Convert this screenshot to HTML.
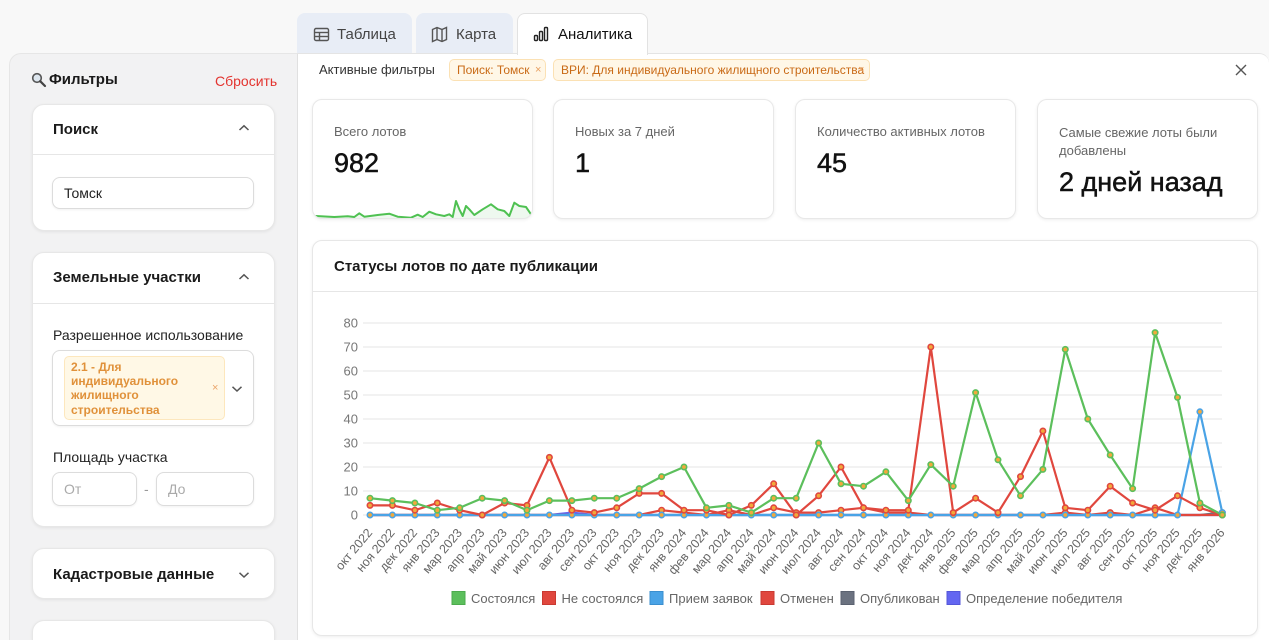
<!DOCTYPE html>
<html style="width:1269px;height:640px;overflow:hidden"><head><meta charset="utf-8">
<style>
*{box-sizing:border-box;margin:0;padding:0}
html,body{width:1269px;height:640px;overflow:hidden}
body{background:#f8f8f8;font-family:"Liberation Sans","DejaVu Sans",sans-serif;color:#111;position:relative}
.abs{position:absolute;white-space:nowrap}
.t{position:absolute;white-space:nowrap;line-height:20px;height:20px}
.tab{position:absolute;top:13px;height:40px;border-radius:8px 8px 0 0;background:#e8edf6}
.tab.active{background:#fff;border:1px solid #e2e2e2;border-bottom:none;height:42px;z-index:3}
.side{position:absolute;left:9px;top:53px;width:289px;height:587px;background:#f2f2f3;border:1px solid #e6e6e6;border-bottom:none;border-radius:12px 0 0 0}
.main{position:absolute;left:297px;top:53px;width:972px;height:587px;background:#fff;border-top:1px solid #e4e4e4;border-left:1px solid #e0e0e0;border-top-right-radius:10px;z-index:2}
.card{position:absolute;background:#fff;border:1px solid #e7e7e7;border-radius:12px;box-shadow:0 1px 3px rgba(0,0,0,.07)}
.scard{position:absolute;top:99px;width:221px;height:120px;background:#fff;border:1px solid #e8e8e8;border-radius:10px;box-shadow:0 1px 3px rgba(0,0,0,.07);overflow:hidden;z-index:3}
.lbl{font-size:13px;color:#666}
.val{font-size:27px;color:#111;-webkit-text-stroke:0.5px #111}
.hdr{font-size:15px;font-weight:bold;color:#1a1a1a}
.inp{position:absolute;background:#fff;border:1px solid #dcdcdc;border-radius:8px;box-shadow:0 1px 2px rgba(0,0,0,.06)}
.chip{position:absolute;top:59px;height:22px;background:#fff7e7;border:1px solid #fbe1b4;border-radius:5px;z-index:3}
.chipt{position:absolute;top:0;line-height:20px;font-size:12px;color:#c96a16;white-space:nowrap}
.chipx{position:absolute;top:0;line-height:20px;font-size:11px;color:#e7a061}
</style></head><body>

<!-- tabs -->
<div class="tab" style="left:297px;width:115px"></div>
<div class="tab" style="left:416px;width:97px"></div>
<div class="tab active" style="left:517px;width:131px"></div>
<svg class="abs" style="left:0;top:0;z-index:4" width="660" height="60">
  <g fill="none" stroke="#555" stroke-width="1.4">
    <rect x="314.5" y="28.5" width="14" height="12" rx="1.5"/>
    <line x1="314.5" y1="32.5" x2="328.5" y2="32.5"/>
    <line x1="314.5" y1="36.5" x2="328.5" y2="36.5"/>
    <line x1="319.5" y1="32.5" x2="319.5" y2="40.5"/>
    <path d="M432.5 29.5 L437 27.5 L442 29.5 L446.5 27.5 L446.5 39.5 L442 41.5 L437 39.5 L432.5 41.5 Z"/>
    <line x1="437" y1="27.5" x2="437" y2="39.5"/>
    <line x1="442" y1="29.5" x2="442" y2="41.5"/>
  </g>
  <g fill="none" stroke="#222" stroke-width="1.4">
    <rect x="534.5" y="35.5" width="3" height="5" rx="1"/>
    <rect x="539.5" y="31.5" width="3" height="9" rx="1"/>
    <rect x="544.5" y="27.5" width="3" height="13" rx="1"/>
  </g>
</svg>
<div class="t" style="left:337px;top:25px;font-size:15px;color:#444;z-index:4">Таблица</div>
<div class="t" style="left:456px;top:25px;font-size:15px;color:#444;z-index:4">Карта</div>
<div class="t" style="left:558px;top:25px;font-size:15px;color:#111;z-index:4">Аналитика</div>

<!-- sidebar -->
<div class="side"></div>
<svg class="abs" style="left:31px;top:72px" width="16" height="16"><circle cx="6" cy="6" r="4.3" fill="#dde6ee" stroke="#555" stroke-width="1.6"/><line x1="9.2" y1="9.2" x2="14" y2="14" stroke="#444" stroke-width="2.2" stroke-linecap="round"/></svg>
<div class="t hdr" style="left:49px;top:70px">Фильтры</div>
<div class="t" style="left:215px;top:71px;font-size:14px;color:#e3342f">Сбросить</div>

<div class="card" style="left:32px;top:104px;width:243px;height:127px">
  <div style="position:absolute;left:0;top:49px;width:100%;border-top:1px solid #e6e6e6"></div>
</div>
<div class="t hdr" style="left:53px;top:120px">Поиск</div>
<svg class="abs" style="left:238px;top:124px" width="12" height="8"><polyline points="1.5,6 6,1.8 10.5,6" fill="none" stroke="#555" stroke-width="1.5"/></svg>
<div class="inp" style="left:52px;top:177px;width:202px;height:32px"></div>
<div class="t" style="left:64px;top:183px;font-size:14px;color:#222">Томск</div>

<div class="card" style="left:32px;top:252px;width:243px;height:275px">
  <div style="position:absolute;left:0;top:50px;width:100%;border-top:1px solid #e6e6e6"></div>
</div>
<div class="t hdr" style="left:53px;top:268px">Земельные участки</div>
<svg class="abs" style="left:238px;top:273px" width="12" height="8"><polyline points="1.5,6 6,1.8 10.5,6" fill="none" stroke="#555" stroke-width="1.5"/></svg>
<div class="t" style="left:53px;top:325px;font-size:14px;color:#222">Разрешенное использование</div>
<div class="inp" style="left:52px;top:350px;width:202px;height:76px"></div>
<div class="abs" style="left:64px;top:356px;width:161px;height:64px;background:#fff8e6;border:1px solid #fde7bd;border-radius:5px"></div>
<div class="abs" style="left:71px;top:359.5px;font-size:12px;font-weight:bold;line-height:14.4px;color:#e0913a">2.1 - Для<br>индивидуального<br>жилищного<br>строительства</div>
<div class="t" style="left:212px;top:378px;font-size:11px;color:#eaa46a">×</div>
<svg class="abs" style="left:231px;top:385px" width="12" height="8"><polyline points="1.5,1.8 6,6 10.5,1.8" fill="none" stroke="#555" stroke-width="1.5"/></svg>
<div class="t" style="left:53px;top:447px;font-size:14px;color:#222">Площадь участка</div>
<div class="inp" style="left:52px;top:472px;width:85px;height:34px"></div>
<div class="t" style="left:64px;top:479px;font-size:14px;color:#aaa">От</div>
<div class="t" style="left:144px;top:479px;font-size:14px;color:#999">-</div>
<div class="inp" style="left:156px;top:472px;width:98px;height:34px"></div>
<div class="t" style="left:168px;top:479px;font-size:14px;color:#aaa">До</div>

<div class="card" style="left:32px;top:548px;width:243px;height:51px"></div>
<div class="t hdr" style="left:53px;top:565px">Кадастровые данные</div>
<svg class="abs" style="left:238px;top:571px" width="12" height="8"><polyline points="1.5,1.8 6,6 10.5,1.8" fill="none" stroke="#555" stroke-width="1.5"/></svg>
<div class="card" style="left:32px;top:620px;width:243px;height:20px;border-bottom:none;border-radius:12px 12px 0 0"></div>

<!-- main -->
<div class="main"></div>
<div class="t" style="left:319px;top:60px;font-size:13px;color:#333;z-index:3">Активные фильтры</div>
<div class="chip" style="left:449px;width:97px"><span class="chipt" style="left:7px">Поиск: Томск</span><span class="chipx" style="left:85px">×</span></div>
<div class="chip" style="left:553px;width:317px"><span class="chipt" style="left:7px">ВРИ: Для индивидуального жилищного строительства</span><span class="chipx" style="left:304px">×</span></div>
<svg class="abs" style="left:1235px;top:64px;z-index:3" width="12" height="12"><path d="M1 1 L11 11 M11 1 L1 11" stroke="#555" stroke-width="1.4"/></svg>

<div class="scard" style="left:312px">
  <div class="t lbl" style="left:21px;top:22px">Всего лотов</div>
  <div class="abs val" style="left:21px;top:46px;line-height:34px">982</div>
  <svg class="abs" style="left:0;top:0" width="221" height="120" viewBox="312 99 221 120">
    <polygon fill="rgba(92,191,95,0.10)" points="313,220 315,215 333.3,216 346.7,215.3 353.3,216 358.3,212.3 363.3,215.7 376.7,214 388.3,212.7 396.7,215.7 410,216.7 416.7,213.7 421.7,216 428.3,210.7 435,213.3 443.3,215 448.3,213.3 451.7,216 455,200 458.3,208.3 461.7,215 465,205 468.3,208.3 473.3,214 481.7,208.3 490,203.3 496.7,208.3 503.3,210 508.3,215 513.3,201.7 518.3,205 525,206 530,213.3 531,220"/>
    <polyline fill="none" stroke="#4fc152" stroke-width="2" stroke-linejoin="round" points="313,216 315,215 333.3,216 346.7,215.3 353.3,216 358.3,212.3 363.3,215.7 376.7,214 388.3,212.7 396.7,215.7 410,216.7 416.7,213.7 421.7,216 428.3,210.7 435,213.3 443.3,215 448.3,213.3 451.7,216 455,200 458.3,208.3 461.7,215 465,205 468.3,208.3 473.3,214 481.7,208.3 490,203.3 496.7,208.3 503.3,210 508.3,215 513.3,201.7 518.3,205 525,206 530,213.3"/>
  </svg>
</div>
<div class="scard" style="left:553px">
  <div class="t lbl" style="left:21px;top:22px">Новых за 7 дней</div>
  <div class="abs val" style="left:21px;top:46px;line-height:34px">1</div>
</div>
<div class="scard" style="left:795px">
  <div class="t lbl" style="left:21px;top:22px">Количество активных лотов</div>
  <div class="abs val" style="left:21px;top:46px;line-height:34px">45</div>
</div>
<div class="scard" style="left:1037px">
  <div class="abs lbl" style="left:21px;top:24px;line-height:18px;white-space:normal;width:190px">Самые свежие лоты были добавлены</div>
  <div class="abs val" style="left:21px;top:65px;line-height:34px">2 дней назад</div>
</div>

<div class="card" style="left:312px;top:240px;width:946px;height:396px;border-radius:10px;z-index:3">
  <div style="position:absolute;left:0;top:50px;width:100%;border-top:1px solid #e6e6e6"></div>
</div>
<div class="t hdr" style="left:334px;top:257px;z-index:4">Статусы лотов по дате публикации</div>

<svg class="abs" style="left:0;top:0;z-index:5" width="1269" height="640" font-family="Liberation Sans, DejaVu Sans, sans-serif">
  <g stroke="#e5e5e5" stroke-width="1">
    <line x1="363" y1="323" x2="1222" y2="323"/>
    <line x1="363" y1="347" x2="1222" y2="347"/>
    <line x1="363" y1="371" x2="1222" y2="371"/>
    <line x1="363" y1="395" x2="1222" y2="395"/>
    <line x1="363" y1="419" x2="1222" y2="419"/>
    <line x1="363" y1="443" x2="1222" y2="443"/>
    <line x1="363" y1="467" x2="1222" y2="467"/>
    <line x1="363" y1="491" x2="1222" y2="491"/>
    <line x1="363" y1="515" x2="1222" y2="515"/>
  </g>
  <g font-size="13" fill="#777" text-anchor="end">
    <text x="358" y="327.5">80</text>
    <text x="358" y="351.5">70</text>
    <text x="358" y="375.5">60</text>
    <text x="358" y="399.5">50</text>
    <text x="358" y="423.5">40</text>
    <text x="358" y="447.5">30</text>
    <text x="358" y="471.5">20</text>
    <text x="358" y="495.5">10</text>
    <text x="358" y="519.5">0</text>
  </g>
  <g font-size="12.5" fill="#666" text-anchor="end">
    <text transform="translate(373,533) rotate(-50)">окт 2022</text>
    <text transform="translate(395.4,533) rotate(-50)">ноя 2022</text>
    <text transform="translate(417.9,533) rotate(-50)">дек 2022</text>
    <text transform="translate(440.3,533) rotate(-50)">янв 2023</text>
    <text transform="translate(462.7,533) rotate(-50)">мар 2023</text>
    <text transform="translate(485.2,533) rotate(-50)">апр 2023</text>
    <text transform="translate(507.6,533) rotate(-50)">май 2023</text>
    <text transform="translate(530,533) rotate(-50)">июн 2023</text>
    <text transform="translate(552.4,533) rotate(-50)">июл 2023</text>
    <text transform="translate(574.9,533) rotate(-50)">авг 2023</text>
    <text transform="translate(597.3,533) rotate(-50)">сен 2023</text>
    <text transform="translate(619.7,533) rotate(-50)">окт 2023</text>
    <text transform="translate(642.2,533) rotate(-50)">ноя 2023</text>
    <text transform="translate(664.6,533) rotate(-50)">дек 2023</text>
    <text transform="translate(687,533) rotate(-50)">янв 2024</text>
    <text transform="translate(709.5,533) rotate(-50)">фев 2024</text>
    <text transform="translate(731.9,533) rotate(-50)">мар 2024</text>
    <text transform="translate(754.3,533) rotate(-50)">апр 2024</text>
    <text transform="translate(776.7,533) rotate(-50)">май 2024</text>
    <text transform="translate(799.2,533) rotate(-50)">июн 2024</text>
    <text transform="translate(821.6,533) rotate(-50)">июл 2024</text>
    <text transform="translate(844,533) rotate(-50)">авг 2024</text>
    <text transform="translate(866.5,533) rotate(-50)">сен 2024</text>
    <text transform="translate(888.9,533) rotate(-50)">окт 2024</text>
    <text transform="translate(911.3,533) rotate(-50)">ноя 2024</text>
    <text transform="translate(933.8,533) rotate(-50)">дек 2024</text>
    <text transform="translate(956.2,533) rotate(-50)">янв 2025</text>
    <text transform="translate(978.6,533) rotate(-50)">фев 2025</text>
    <text transform="translate(1001,533) rotate(-50)">мар 2025</text>
    <text transform="translate(1023.5,533) rotate(-50)">апр 2025</text>
    <text transform="translate(1045.9,533) rotate(-50)">май 2025</text>
    <text transform="translate(1068.3,533) rotate(-50)">июн 2025</text>
    <text transform="translate(1090.8,533) rotate(-50)">июл 2025</text>
    <text transform="translate(1113.2,533) rotate(-50)">авг 2025</text>
    <text transform="translate(1135.6,533) rotate(-50)">сен 2025</text>
    <text transform="translate(1158.1,533) rotate(-50)">окт 2025</text>
    <text transform="translate(1180.5,533) rotate(-50)">ноя 2025</text>
    <text transform="translate(1202.9,533) rotate(-50)">дек 2025</text>
    <text transform="translate(1225.3,533) rotate(-50)">янв 2026</text>
  </g>

  <g fill="none" stroke-width="2.2" stroke-linejoin="round">
    <polyline stroke="#6366f1" points="370,515 549.4,515 571.9,512.6 594.3,515 1222.3,515"/>
    <polyline stroke="#6b7280" points="370,515 1199.9,515 1222.3,512.6"/>
    <polyline stroke="#e0473e" points="370,515 639.2,515 661.6,510.2 684,512.6 706.5,515 728.9,510.2 751.3,515 773.7,507.8 796.2,512.6 818.6,512.6 841,510.2 863.5,507.8 885.9,512.6 908.3,512.6 930.8,515 1042.9,515 1065.3,512.6 1087.8,515 1110.2,512.6 1132.6,515 1155.1,507.8 1177.5,515 1222.3,515"/>
    <polyline stroke="#4aa3e6" points="370,515 1177.5,515 1199.9,411.8 1222.3,512.6"/>
    <polyline stroke="#e0473e" points="370,505.4 392.4,505.4 414.9,510.2 437.3,503 459.7,510.2 482.2,515 504.6,503 527,505.4 549.4,457.4 571.9,510.2 594.3,512.6 616.7,507.8 639.2,493.4 661.6,493.4 684,510.2 706.5,510.2 728.9,515 751.3,505.4 773.7,483.8 796.2,515 818.6,495.8 841,467 863.5,507.8 885.9,510.2 908.3,510.2 930.8,347 953.2,512.6 975.6,498.2 998,512.6 1020.5,476.6 1042.9,431 1065.3,507.8 1087.8,510.2 1110.2,486.2 1132.6,503 1155.1,510.2 1177.5,495.8 1199.9,507.8 1222.3,515"/>
    <polyline stroke="#5cbf5c" points="370,498.2 392.4,500.6 414.9,503 437.3,510.2 459.7,507.8 482.2,498.2 504.6,500.6 527,510.2 549.4,500.6 571.9,500.6 594.3,498.2 616.7,498.2 639.2,488.6 661.6,476.6 684,467 706.5,507.8 728.9,505.4 751.3,512.6 773.7,498.2 796.2,498.2 818.6,443 841,483.8 863.5,486.2 885.9,471.8 908.3,500.6 930.8,464.6 953.2,486.2 975.6,392.6 998,459.8 1020.5,495.8 1042.9,469.4 1065.3,349.4 1087.8,419 1110.2,455 1132.6,488.6 1155.1,332.6 1177.5,397.4 1199.9,503 1222.3,515"/>
  </g>

  <g fill="#f2a93b" stroke-width="1.6">
    <g stroke="#6366f1"><circle cx="571.9" cy="512.6" r="2.7"/></g>
    <g stroke="#6b7280"><circle cx="1222.3" cy="512.6" r="2.7"/></g>
    <g stroke="#e0473e">
      <circle cx="661.6" cy="510.2" r="2.7"/><circle cx="684" cy="512.6" r="2.7"/><circle cx="728.9" cy="510.2" r="2.7"/><circle cx="773.7" cy="507.8" r="2.7"/><circle cx="796.2" cy="512.6" r="2.7"/><circle cx="818.6" cy="512.6" r="2.7"/><circle cx="841" cy="510.2" r="2.7"/><circle cx="863.5" cy="507.8" r="2.7"/><circle cx="885.9" cy="512.6" r="2.7"/><circle cx="908.3" cy="512.6" r="2.7"/><circle cx="1065.3" cy="512.6" r="2.7"/><circle cx="1110.2" cy="512.6" r="2.7"/><circle cx="1155.1" cy="507.8" r="2.7"/>
    </g>
    <g stroke="#4aa3e6">
      <circle cx="370" cy="515" r="2.7"/><circle cx="392.4" cy="515" r="2.7"/><circle cx="414.9" cy="515" r="2.7"/><circle cx="437.3" cy="515" r="2.7"/><circle cx="459.7" cy="515" r="2.7"/><circle cx="482.2" cy="515" r="2.7"/><circle cx="504.6" cy="515" r="2.7"/><circle cx="527" cy="515" r="2.7"/><circle cx="549.4" cy="515" r="2.7"/><circle cx="571.9" cy="515" r="2.7"/><circle cx="594.3" cy="515" r="2.7"/><circle cx="616.7" cy="515" r="2.7"/><circle cx="639.2" cy="515" r="2.7"/><circle cx="661.6" cy="515" r="2.7"/><circle cx="684" cy="515" r="2.7"/><circle cx="706.5" cy="515" r="2.7"/><circle cx="728.9" cy="515" r="2.7"/><circle cx="751.3" cy="515" r="2.7"/><circle cx="773.7" cy="515" r="2.7"/><circle cx="796.2" cy="515" r="2.7"/><circle cx="818.6" cy="515" r="2.7"/><circle cx="841" cy="515" r="2.7"/><circle cx="863.5" cy="515" r="2.7"/><circle cx="885.9" cy="515" r="2.7"/><circle cx="908.3" cy="515" r="2.7"/><circle cx="930.8" cy="515" r="2.7"/><circle cx="953.2" cy="515" r="2.7"/><circle cx="975.6" cy="515" r="2.7"/><circle cx="998" cy="515" r="2.7"/><circle cx="1020.5" cy="515" r="2.7"/><circle cx="1042.9" cy="515" r="2.7"/><circle cx="1065.3" cy="515" r="2.7"/><circle cx="1087.8" cy="515" r="2.7"/><circle cx="1110.2" cy="515" r="2.7"/><circle cx="1132.6" cy="515" r="2.7"/><circle cx="1155.1" cy="515" r="2.7"/><circle cx="1177.5" cy="515" r="2.7"/><circle cx="1199.9" cy="411.8" r="2.7"/><circle cx="1222.3" cy="512.6" r="2.7"/>
    </g>
    <g stroke="#e0473e">
      <circle cx="370" cy="505.4" r="2.7"/><circle cx="392.4" cy="505.4" r="2.7"/><circle cx="414.9" cy="510.2" r="2.7"/><circle cx="437.3" cy="503" r="2.7"/><circle cx="459.7" cy="510.2" r="2.7"/><circle cx="482.2" cy="515" r="2.7"/><circle cx="504.6" cy="503" r="2.7"/><circle cx="527" cy="505.4" r="2.7"/><circle cx="549.4" cy="457.4" r="2.7"/><circle cx="571.9" cy="510.2" r="2.7"/><circle cx="594.3" cy="512.6" r="2.7"/><circle cx="616.7" cy="507.8" r="2.7"/><circle cx="639.2" cy="493.4" r="2.7"/><circle cx="661.6" cy="493.4" r="2.7"/><circle cx="684" cy="510.2" r="2.7"/><circle cx="706.5" cy="510.2" r="2.7"/><circle cx="728.9" cy="515" r="2.7"/><circle cx="751.3" cy="505.4" r="2.7"/><circle cx="773.7" cy="483.8" r="2.7"/><circle cx="796.2" cy="515" r="2.7"/><circle cx="818.6" cy="495.8" r="2.7"/><circle cx="841" cy="467" r="2.7"/><circle cx="863.5" cy="507.8" r="2.7"/><circle cx="885.9" cy="510.2" r="2.7"/><circle cx="908.3" cy="510.2" r="2.7"/><circle cx="930.8" cy="347" r="2.7"/><circle cx="953.2" cy="512.6" r="2.7"/><circle cx="975.6" cy="498.2" r="2.7"/><circle cx="998" cy="512.6" r="2.7"/><circle cx="1020.5" cy="476.6" r="2.7"/><circle cx="1042.9" cy="431" r="2.7"/><circle cx="1065.3" cy="507.8" r="2.7"/><circle cx="1087.8" cy="510.2" r="2.7"/><circle cx="1110.2" cy="486.2" r="2.7"/><circle cx="1132.6" cy="503" r="2.7"/><circle cx="1155.1" cy="510.2" r="2.7"/><circle cx="1177.5" cy="495.8" r="2.7"/><circle cx="1199.9" cy="507.8" r="2.7"/><circle cx="1222.3" cy="515" r="2.7"/>
    </g>
    <g stroke="#5cbf5c">
      <circle cx="370" cy="498.2" r="2.7"/><circle cx="392.4" cy="500.6" r="2.7"/><circle cx="414.9" cy="503" r="2.7"/><circle cx="437.3" cy="510.2" r="2.7"/><circle cx="459.7" cy="507.8" r="2.7"/><circle cx="482.2" cy="498.2" r="2.7"/><circle cx="504.6" cy="500.6" r="2.7"/><circle cx="527" cy="510.2" r="2.7"/><circle cx="549.4" cy="500.6" r="2.7"/><circle cx="571.9" cy="500.6" r="2.7"/><circle cx="594.3" cy="498.2" r="2.7"/><circle cx="616.7" cy="498.2" r="2.7"/><circle cx="639.2" cy="488.6" r="2.7"/><circle cx="661.6" cy="476.6" r="2.7"/><circle cx="684" cy="467" r="2.7"/><circle cx="706.5" cy="507.8" r="2.7"/><circle cx="728.9" cy="505.4" r="2.7"/><circle cx="751.3" cy="512.6" r="2.7"/><circle cx="773.7" cy="498.2" r="2.7"/><circle cx="796.2" cy="498.2" r="2.7"/><circle cx="818.6" cy="443" r="2.7"/><circle cx="841" cy="483.8" r="2.7"/><circle cx="863.5" cy="486.2" r="2.7"/><circle cx="885.9" cy="471.8" r="2.7"/><circle cx="908.3" cy="500.6" r="2.7"/><circle cx="930.8" cy="464.6" r="2.7"/><circle cx="953.2" cy="486.2" r="2.7"/><circle cx="975.6" cy="392.6" r="2.7"/><circle cx="998" cy="459.8" r="2.7"/><circle cx="1020.5" cy="495.8" r="2.7"/><circle cx="1042.9" cy="469.4" r="2.7"/><circle cx="1065.3" cy="349.4" r="2.7"/><circle cx="1087.8" cy="419" r="2.7"/><circle cx="1110.2" cy="455" r="2.7"/><circle cx="1132.6" cy="488.6" r="2.7"/><circle cx="1155.1" cy="332.6" r="2.7"/><circle cx="1177.5" cy="397.4" r="2.7"/><circle cx="1199.9" cy="503" r="2.7"/><circle cx="1222.3" cy="515" r="2.7"/>
    </g>
  </g>

  <g font-size="13" fill="#666">
    <rect x="452" y="591.5" width="13" height="13" fill="#5cbf5c" stroke="#4dab4e" stroke-width="1"/>
    <text x="471" y="603">Состоялся</text>
    <rect x="542.5" y="591.5" width="13" height="13" fill="#e0473e" stroke="#c93a32" stroke-width="1"/>
    <text x="561.5" y="603">Не состоялся</text>
    <rect x="650" y="591.5" width="13" height="13" fill="#4aa3e6" stroke="#3b8fcf" stroke-width="1"/>
    <text x="669" y="603">Прием заявок</text>
    <rect x="761" y="591.5" width="13" height="13" fill="#e0473e" stroke="#c93a32" stroke-width="1"/>
    <text x="780" y="603">Отменен</text>
    <rect x="841" y="591.5" width="13" height="13" fill="#6b7280" stroke="#5b6270" stroke-width="1"/>
    <text x="860" y="603">Опубликован</text>
    <rect x="947" y="591.5" width="13" height="13" fill="#6366f1" stroke="#5457d8" stroke-width="1"/>
    <text x="966" y="603">Определение победителя</text>
  </g>
</svg>
</body></html>
